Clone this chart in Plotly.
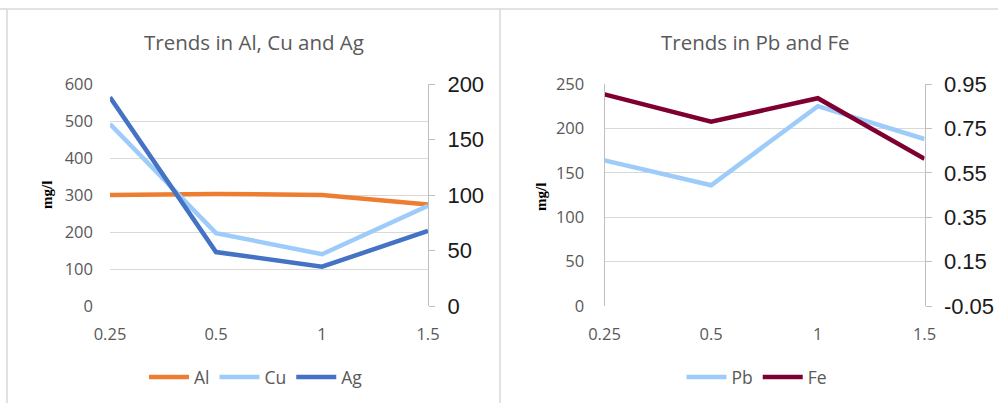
import plotly.graph_objects as go

# Sampling positions (shown as categories)
x_labels = ["0.25", "0.5", "1", "1.5"]

# Panel 1 concentrations (mg/l)
al = [300, 303, 300, 274]
cu = [492, 197, 140, 271]
ag = [188, 48.6, 35.4, 67.6]   # plotted against the right-hand axis

# Panel 2 concentrations (mg/l)
pb = [164, 136, 225, 188]
fe = [0.903, 0.78, 0.886, 0.613]  # plotted against the right-hand axis

# Right-hand axis ticks of panel 2 (written with a plain hyphen)
fe_ticks = [-0.05, 0.15, 0.35, 0.55, 0.75, 0.95]
fe_tick_text = ["-0.05", "0.15", "0.35", "0.55", "0.75", "0.95"]

W, H = 998, 403
def px(x):
    return x / W
def py(y):
    return (H - y) / H

GRAY = "#595959"
GRID = "#d9d9d9"
AXIS = "#bfbfbf"
SANS = "Open Sans, Lato, sans-serif"
TICK_FONT = dict(family=SANS, size=16.5, color=GRAY)
SEC_FONT = dict(family="Liberation Sans, Arial, sans-serif", size=22, color="#1a1a1a")
LW = 4.5

fig = go.Figure()

fig.add_trace(go.Scatter(x=x_labels, y=al, name="Al", mode="lines",
                         line=dict(color="#ED7D31", width=LW), xaxis="x", yaxis="y",
                         legend="legend"))
fig.add_trace(go.Scatter(x=x_labels, y=cu, name="Cu", mode="lines",
                         line=dict(color="#9DCBFA", width=LW), xaxis="x", yaxis="y",
                         legend="legend"))
fig.add_trace(go.Scatter(x=x_labels, y=ag, name="Ag", mode="lines",
                         line=dict(color="#4472C4", width=LW), xaxis="x", yaxis="y2",
                         legend="legend"))

fig.add_trace(go.Scatter(x=x_labels, y=pb, name="Pb", mode="lines",
                         line=dict(color="#9DCBFA", width=LW), xaxis="x2", yaxis="y3",
                         legend="legend2"))
fig.add_trace(go.Scatter(x=x_labels, y=fe, name="Fe", mode="lines",
                         line=dict(color="#7F0030", width=LW), xaxis="x2", yaxis="y4",
                         legend="legend2"))

ydom = [py(306), py(84)]
xdom1 = [px(110), px(428)]
xdom2 = [px(604.5), px(924.5)]

xcommon = dict(type="category", range=[0, 3], showgrid=False, showline=False,
               zeroline=False, ticks="", tickfont=TICK_FONT, ticklabelstandoff=16,
               automargin=False)

primary = dict(showgrid=True, gridcolor=GRID, gridwidth=1, zeroline=False,
               ticks="", tickfont=TICK_FONT, ticklabelstandoff=16, domain=ydom,
               automargin=False)
secondary = dict(side="right", showgrid=False, zeroline=False, showline=True,
                 linecolor=AXIS, linewidth=1, ticks="outside", ticklen=6,
                 tickcolor=AXIS, tickfont=SEC_FONT, ticklabelstandoff=8,
                 automargin=False)

LEG_FONT = dict(family=SANS, size=17.5, color=GRAY)

fig.update_layout(
    template="none",
    width=W, height=H,
    margin=dict(l=0, r=0, t=0, b=0, autoexpand=False),
    paper_bgcolor="white", plot_bgcolor="white",
    xaxis=dict(domain=xdom1, anchor="y", **xcommon),
    xaxis2=dict(domain=xdom2, anchor="y3", **xcommon),
    yaxis=dict(range=[0, 600], dtick=100, anchor="x", showline=False, **primary),
    yaxis2=dict(range=[0, 200], dtick=50, overlaying="y", anchor="x", **secondary),
    yaxis3=dict(range=[0, 250], dtick=50, anchor="x2", showline=True,
                linecolor=AXIS, linewidth=1, **primary),
    yaxis4=dict(range=[-0.05, 0.95], tickvals=fe_ticks, ticktext=fe_tick_text,
                overlaying="y3", anchor="x2", **secondary),
    legend=dict(orientation="h", x=px(256), y=py(377), xanchor="center", yanchor="middle",
                font=LEG_FONT, itemwidth=40, tracegroupgap=0, bgcolor="rgba(0,0,0,0)"),
    legend2=dict(orientation="h", x=px(757), y=py(377), xanchor="center", yanchor="middle",
                 font=LEG_FONT, itemwidth=40, tracegroupgap=0, bgcolor="rgba(0,0,0,0)"),
    showlegend=True,
)

# Chart titles
for text, xc in [("Trends in Al, Cu and Ag", 254), ("Trends in Pb and Fe", 755)]:
    fig.add_annotation(text=text, x=px(xc), y=py(42), xref="paper", yref="paper",
                       showarrow=False, xanchor="center", yanchor="middle",
                       font=dict(family=SANS, size=20.5, color=GRAY))

# Vertical unit labels
for xc, yc in [(47, 195), (541, 197)]:
    fig.add_annotation(text="<b>mg/l</b>", x=px(xc), y=py(yc), xref="paper", yref="paper",
                       showarrow=False, textangle=-90, xanchor="center", yanchor="middle",
                       font=dict(family="Liberation Serif, Times New Roman, serif",
                                 size=15, color="black"))

# Panel frames: top rule, left edge and divider
frame = dict(type="line", xref="paper", yref="paper", line=dict(color="#d9d9d9", width=1.5))
fig.add_shape(x0=0, x1=1, y0=py(9), y1=py(9), **frame)
fig.add_shape(x0=px(7), x1=px(7), y0=0, y1=py(9), **frame)
fig.add_shape(x0=px(500), x1=px(500), y0=0, y1=py(9), **frame)

fig.write_html("out.html")
